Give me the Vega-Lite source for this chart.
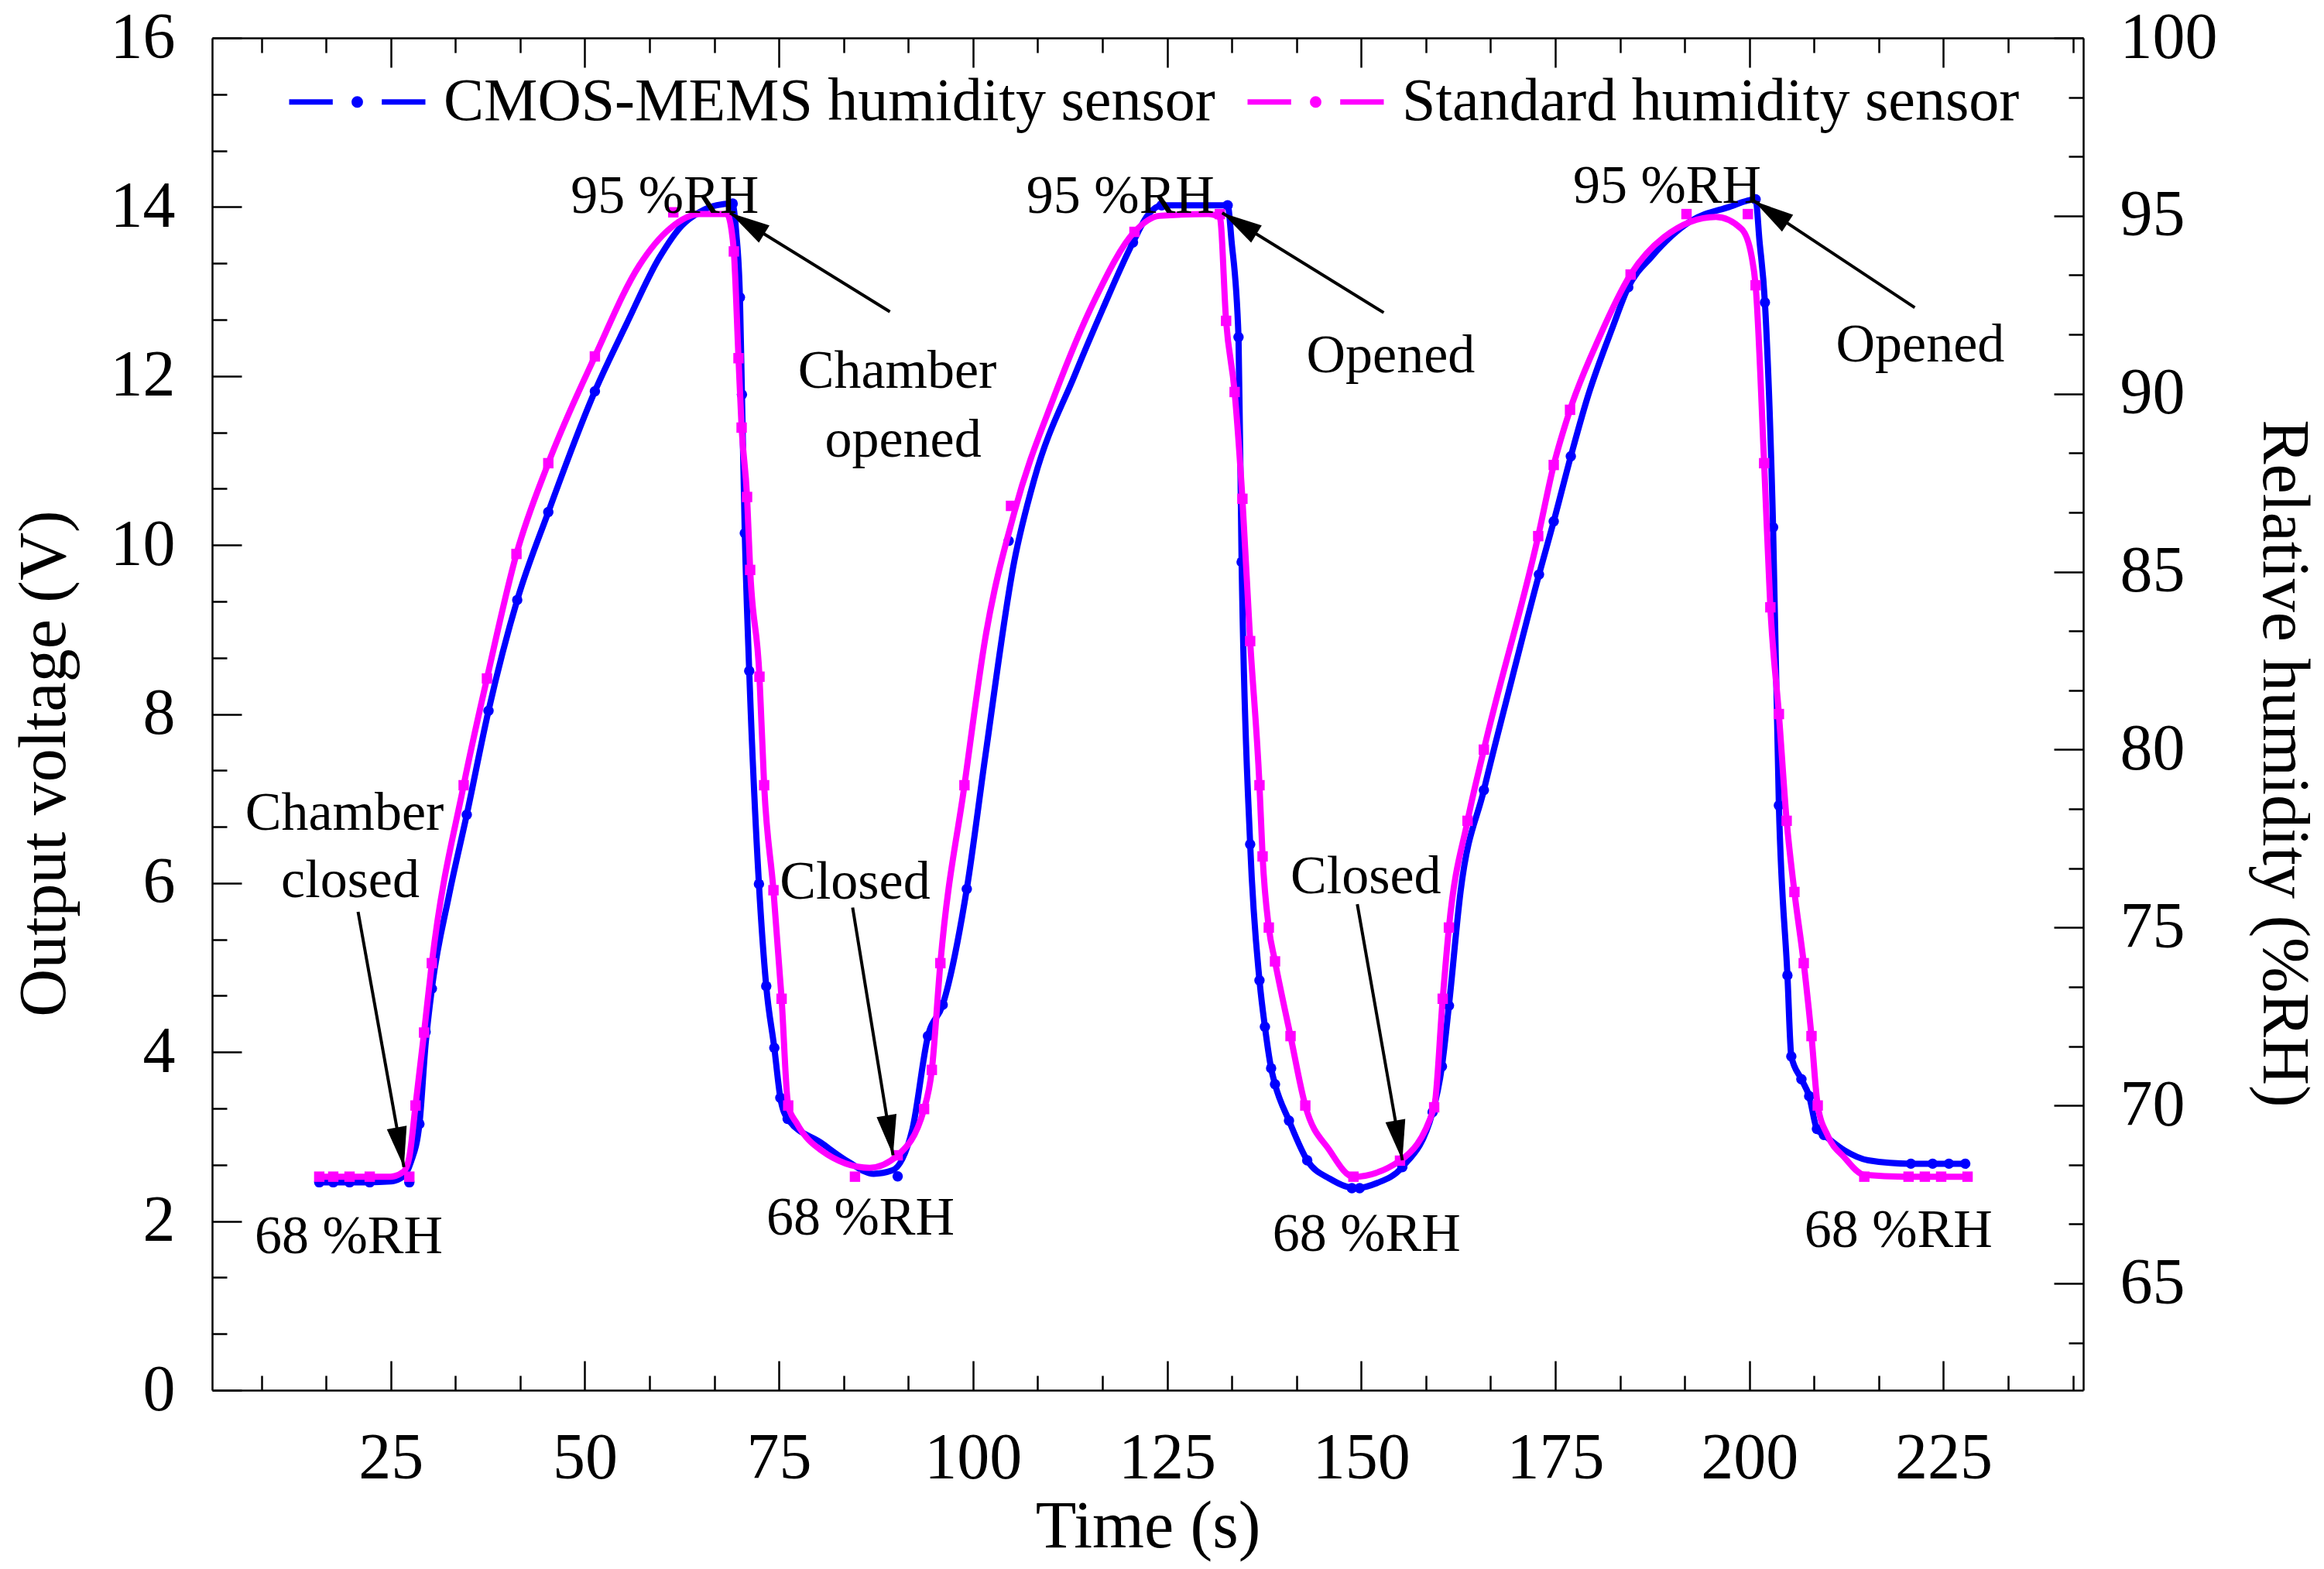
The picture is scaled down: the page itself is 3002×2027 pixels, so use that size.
{
  "$schema": "https://vega.github.io/schema/vega-lite/v6.json",
  "width": 2417,
  "height": 1747,
  "autosize": {"type": "none"},
  "padding": {"left": 274, "top": 49, "right": 311, "bottom": 231},
  "background": "white",
  "config": {
    "view": {"stroke": null},
    "font": "Liberation Serif",
    "axis": {
      "grid": false, "domainColor": "black", "domainWidth": 2.5, "tickColor": "black", "tickWidth": 2.5,
      "labelColor": "black", "labelFont": "Liberation Serif", "labelFontSize": 84,
      "titleFont": "Liberation Serif", "titleFontSize": 86, "titleFontWeight": "normal", "titleColor": "black",
      "labelOverlap": false, "labelBound": false, "labelFlush": false
    }
  },
  "datasets": {
    "cmos_fit": [
      {"t":15.8,"v":2.46},{"t":22,"v":2.46},{"t":25,"v":2.47},{"t":26.5,"v":2.52},{"t":27.6,"v":2.7},{"t":28.7,"v":3.15},{"t":29.5,"v":4.1},{"t":30.3,"v":4.75},{"t":32.5,"v":5.85},{"t":34.8,"v":6.81},{"t":37.6,"v":8.04},{"t":41.3,"v":9.35},{"t":45.3,"v":10.39},{"t":51.3,"v":11.82},{"t":55.4,"v":12.62},{"t":59.6,"v":13.4},{"t":62.5,"v":13.78},{"t":64.8,"v":13.94},{"t":67,"v":14.02},{"t":69.0,"v":14.04},{"t":69.5,"v":13.7},{"t":69.98,"v":12.93},{"t":70.24,"v":11.78},{"t":70.61,"v":10.14},{"t":71.18,"v":8.51},{"t":72.43,"v":5.99},{"t":73.37,"v":4.78},{"t":74.41,"v":4.05},{"t":75.19,"v":3.46},{"t":76.13,"v":3.21},{"t":80.4,"v":2.93},{"t":84,"v":2.7},{"t":87.2,"v":2.56},{"t":89.6,"v":2.6},{"t":92.2,"v":3.09},{"t":94.2,"v":4.19},{"t":96.1,"v":4.56},{"t":99.2,"v":5.93},{"t":101.6,"v":7.51},{"t":105.3,"v":9.8},{"t":107.9,"v":10.78},{"t":113.1,"v":12.01},{"t":116.7,"v":12.79},{"t":120.6,"v":13.58},{"t":122.5,"v":13.9},{"t":124.3,"v":14.02},{"t":132.8,"v":14.02},{"t":133.3,"v":13.6},{"t":134.2,"v":12.46},{"t":134.6,"v":9.8},{"t":135.7,"v":6.46},{"t":136.9,"v":4.85},{"t":137.6,"v":4.3},{"t":138.4,"v":3.81},{"t":138.9,"v":3.62},{"t":140.7,"v":3.19},{"t":143.05,"v":2.72},{"t":146,"v":2.5},{"t":149.3,"v":2.39},{"t":152,"v":2.45},{"t":155.3,"v":2.64},{"t":159.2,"v":3.29},{"t":160.4,"v":3.83},{"t":161.3,"v":4.55},{"t":162.8,"v":5.9},{"t":165.8,"v":7.1},{"t":169.4,"v":8.41},{"t":172.9,"v":9.65},{"t":174.8,"v":10.28},{"t":177.0,"v":11.05},{"t":179.1,"v":11.73},{"t":182.4,"v":12.58},{"t":184.4,"v":13.05},{"t":187.4,"v":13.41},{"t":192.4,"v":13.83},{"t":197.4,"v":14.0},{"t":200.8,"v":14.09},{"t":201.3,"v":13.6},{"t":202.0,"v":12.87},{"t":203.05,"v":10.21},{"t":203.8,"v":6.92},{"t":204.9,"v":4.91},{"t":205.4,"v":3.95},{"t":206.7,"v":3.68},{"t":207.7,"v":3.48},{"t":208.7,"v":3.09},{"t":209.6,"v":3.02},{"t":212.2,"v":2.84},{"t":215.3,"v":2.72},{"t":220.8,"v":2.68},{"t":227.8,"v":2.68}
    ],
    "cmos_pts": [
      {"t":15.8,"v":2.46},{"t":17.6,"v":2.46},{"t":19.7,"v":2.46},{"t":22.3,"v":2.46},{"t":27.4,"v":2.46},{"t":28.7,"v":3.15},{"t":29.5,"v":4.24},{"t":30.3,"v":4.75},{"t":34.8,"v":6.81},{"t":37.6,"v":8.04},{"t":41.3,"v":9.35},{"t":45.3,"v":10.39},{"t":51.3,"v":11.82},{"t":69.05,"v":14.04},{"t":69.98,"v":12.93},{"t":70.24,"v":11.78},{"t":70.61,"v":10.14},{"t":71.18,"v":8.51},{"t":72.43,"v":5.99},{"t":73.37,"v":4.78},{"t":74.41,"v":4.05},{"t":75.19,"v":3.46},{"t":76.13,"v":3.21},{"t":90.3,"v":2.53},{"t":94.2,"v":4.19},{"t":96.1,"v":4.56},{"t":99.2,"v":5.93},{"t":104.6,"v":10.05},{"t":120.6,"v":13.58},{"t":124.3,"v":14.02},{"t":132.8,"v":14.02},{"t":134.2,"v":12.46},{"t":134.6,"v":9.8},{"t":135.7,"v":6.46},{"t":136.9,"v":4.85},{"t":137.6,"v":4.3},{"t":138.4,"v":3.81},{"t":138.9,"v":3.62},{"t":140.7,"v":3.19},{"t":143.05,"v":2.72},{"t":148.8,"v":2.39},{"t":149.8,"v":2.39},{"t":155.3,"v":2.64},{"t":159.2,"v":3.29},{"t":160.4,"v":3.83},{"t":161.3,"v":4.55},{"t":165.8,"v":7.1},{"t":172.9,"v":9.65},{"t":174.8,"v":10.28},{"t":177.0,"v":11.05},{"t":184.4,"v":13.05},{"t":200.8,"v":14.09},{"t":202.0,"v":12.87},{"t":203.05,"v":10.21},{"t":203.8,"v":6.92},{"t":204.9,"v":4.91},{"t":205.4,"v":3.95},{"t":206.7,"v":3.68},{"t":207.7,"v":3.48},{"t":208.7,"v":3.09},{"t":209.6,"v":3.02},{"t":220.8,"v":2.68},{"t":223.6,"v":2.68},{"t":225.7,"v":2.68},{"t":227.8,"v":2.68}
    ],
    "std_fit": [
      {"t":15.8,"rh":68.0},{"t":25.0,"rh":68.0},{"t":26.7,"rh":68.15},{"t":27.4,"rh":68.55},{"t":28.2,"rh":70.0},{"t":29.3,"rh":72.05},{"t":30.3,"rh":74.0},{"t":34.4,"rh":79.0},{"t":37.4,"rh":82.0},{"t":41.2,"rh":85.5},{"t":45.3,"rh":88.05},{"t":51.3,"rh":91.05},{"t":57.0,"rh":93.6},{"t":61.0,"rh":94.65},{"t":64.8,"rh":95.05},{"t":68.3,"rh":95.05},{"t":68.9,"rh":94.6},{"t":69.2,"rh":94.0},{"t":69.8,"rh":91.0},{"t":70.2,"rh":89.05},{"t":70.9,"rh":87.1},{"t":71.3,"rh":85.05},{"t":72.5,"rh":82.05},{"t":73.1,"rh":79.0},{"t":74.3,"rh":76.05},{"t":75.35,"rh":73.0},{"t":76.2,"rh":70.0},{"t":77.3,"rh":69.5},{"t":80.4,"rh":68.75},{"t":86.7,"rh":68.25},{"t":90.3,"rh":68.6},{"t":93.7,"rh":69.9},{"t":94.7,"rh":71.0},{"t":95.8,"rh":74.0},{"t":98.9,"rh":79.0},{"t":101.6,"rh":83.15},{"t":105.3,"rh":86.65},{"t":110.5,"rh":89.95},{"t":115.7,"rh":92.65},{"t":120.8,"rh":94.55},{"t":124.0,"rh":95.0},{"t":130.3,"rh":95.05},{"t":131.8,"rh":94.95},{"t":132.6,"rh":92.05},{"t":133.7,"rh":90.05},{"t":134.7,"rh":87.05},{"t":135.7,"rh":83.05},{"t":136.9,"rh":79.0},{"t":137.3,"rh":77.0},{"t":138.1,"rh":75.0},{"t":138.9,"rh":74.05},{"t":140.9,"rh":71.95},{"t":142.8,"rh":70.0},{"t":145.9,"rh":68.75},{"t":149.0,"rh":68.0},{"t":155.0,"rh":68.45},{"t":159.4,"rh":69.95},{"t":160.5,"rh":73.0},{"t":161.3,"rh":75.0},{"t":163.7,"rh":78.0},{"t":165.8,"rh":80.0},{"t":172.8,"rh":86.0},{"t":174.8,"rh":88.0},{"t":176.9,"rh":89.55},{"t":180.7,"rh":91.6},{"t":184.7,"rh":93.35},{"t":189.0,"rh":94.4},{"t":195.7,"rh":94.97},{"t":199.0,"rh":94.63},{"t":200.3,"rh":93.85},{"t":200.8,"rh":93.05},{"t":201.9,"rh":88.05},{"t":202.7,"rh":84.0},{"t":203.8,"rh":81.0},{"t":204.8,"rh":78.0},{"t":205.8,"rh":76.0},{"t":207.0,"rh":74.0},{"t":208.0,"rh":71.95},{"t":208.8,"rh":70.0},{"t":210.1,"rh":69.15},{"t":212.2,"rh":68.55},{"t":214.8,"rh":68.05},{"t":220.0,"rh":68.0},{"t":228.1,"rh":68.0}
    ],
    "std_pts": [
      {"t":15.8,"rh":68.0},{"t":17.6,"rh":68.0},{"t":19.7,"rh":68.0},{"t":22.3,"rh":68.0},{"t":27.4,"rh":68.0},{"t":28.2,"rh":70.0},{"t":29.3,"rh":72.05},{"t":30.3,"rh":74.0},{"t":34.4,"rh":79.0},{"t":37.4,"rh":82.0},{"t":41.2,"rh":85.5},{"t":45.3,"rh":88.05},{"t":51.3,"rh":91.05},{"t":61.4,"rh":95.1},{"t":69.2,"rh":94.0},{"t":69.8,"rh":91.0},{"t":70.2,"rh":89.05},{"t":70.9,"rh":87.1},{"t":71.3,"rh":85.05},{"t":72.5,"rh":82.05},{"t":73.1,"rh":79.0},{"t":74.3,"rh":76.05},{"t":75.35,"rh":73.0},{"t":76.2,"rh":70.0},{"t":84.8,"rh":68.0},{"t":90.3,"rh":68.6},{"t":93.7,"rh":69.9},{"t":94.7,"rh":71.0},{"t":95.8,"rh":74.0},{"t":98.9,"rh":79.0},{"t":104.9,"rh":86.85},{"t":120.8,"rh":94.55},{"t":131.8,"rh":95.05},{"t":132.6,"rh":92.05},{"t":133.7,"rh":90.05},{"t":134.7,"rh":87.05},{"t":135.7,"rh":83.05},{"t":136.9,"rh":79.0},{"t":137.3,"rh":77.0},{"t":138.1,"rh":75.0},{"t":138.9,"rh":74.05},{"t":140.9,"rh":71.95},{"t":142.8,"rh":70.0},{"t":149.0,"rh":68.0},{"t":155.0,"rh":68.45},{"t":159.4,"rh":69.95},{"t":160.5,"rh":73.0},{"t":161.3,"rh":75.0},{"t":163.7,"rh":78.0},{"t":165.8,"rh":80.0},{"t":172.8,"rh":86.0},{"t":174.8,"rh":88.0},{"t":176.9,"rh":89.55},{"t":184.7,"rh":93.35},{"t":191.9,"rh":95.05},{"t":199.8,"rh":95.05},{"t":200.8,"rh":93.05},{"t":201.9,"rh":88.05},{"t":202.7,"rh":84.0},{"t":203.8,"rh":81.0},{"t":204.8,"rh":78.0},{"t":205.8,"rh":76.0},{"t":207.0,"rh":74.0},{"t":208.0,"rh":71.95},{"t":208.8,"rh":70.0},{"t":214.8,"rh":68.0},{"t":220.5,"rh":68.0},{"t":222.6,"rh":68.0},{"t":224.7,"rh":68.0},{"t":228.1,"rh":68.0}
    ],
    "arrows": [
      {"t":20.8,"v":5.66,"t2":26.7,"v2":2.64},
      {"t":89.3,"v":12.76,"t2":68.7,"v2":13.93},
      {"t":84.5,"v":5.71,"t2":89.7,"v2":2.78},
      {"t":152.9,"v":12.75,"t2":132.1,"v2":13.93},
      {"t":149.5,"v":5.75,"t2":155.3,"v2":2.72},
      {"t":221.3,"v":12.81,"t2":200.6,"v2":14.07}
    ],
    "notes": [
      {"t":60.3,"v":14.12,"label":"95 %RH"},
      {"t":119.0,"v":14.12,"label":"95 %RH"},
      {"t":189.4,"v":14.24,"label":"95 %RH"},
      {"t":19.6,"v":1.81,"label":"68 %RH"},
      {"t":85.5,"v":2.03,"label":"68 %RH"},
      {"t":150.7,"v":1.84,"label":"68 %RH"},
      {"t":219.2,"v":1.89,"label":"68 %RH"},
      {"t":19.06,"v":6.82,"label":"Chamber"},
      {"t":19.8,"v":6.03,"label":"closed"},
      {"t":90.25,"v":12.05,"label":"Chamber"},
      {"t":91.0,"v":11.24,"label":"opened"},
      {"t":84.8,"v":6.01,"label":"Closed"},
      {"t":153.8,"v":12.24,"label":"Opened"},
      {"t":150.6,"v":6.07,"label":"Closed"},
      {"t":222.0,"v":12.36,"label":"Opened"}
    ]
  },
  "resolve": {"scale": {"x": "independent", "y": "independent"}, "axis": {"x": "independent", "y": "independent"}},
  "layer": [
    {
      "layer": [
        {
          "data": {"name": "cmos_fit"},
          "mark": {"type": "line", "interpolate": "monotone", "strokeWidth": 8},
          "encoding": {
            "x": {"field": "t", "type": "quantitative", "scale": {"domain": [2, 243], "nice": false, "zero": false},
              "axis": {"orient": "bottom", "title": "Time (s)", "labelOverlap": false, "values": [8.3333,16.6667,25,33.3333,41.6667,50,58.3333,66.6667,75,83.3333,91.6667,100,108.3333,116.6667,125,133.3333,141.6667,150,158.3333,166.6667,175,183.3333,191.6667,200,208.3333,216.6667,225,233.3333,241.6667],
                "tickSize": {"condition": {"test": "datum.value % 25 === 0", "value": -38}, "value": -19},
                "labelExpr": "datum.value % 25 === 0 ? format(datum.value, 'd') : ''", "labelPadding": 85, "titleY": 176, "titleBaseline": "middle"}},
            "y": {"field": "v", "type": "quantitative", "scale": {"domain": [0, 16], "nice": false, "zero": false},
              "axis": {"orient": "left", "title": "Output voltage (V)", "labelOverlap": false, "values": [0,0.6667,1.3333,2,2.6667,3.3333,4,4.6667,5.3333,6,6.6667,7.3333,8,8.6667,9.3333,10,10.6667,11.3333,12,12.6667,13.3333,14,14.6667,15.3333,16],
                "tickSize": {"condition": {"test": "datum.value % 2 === 0", "value": -38}, "value": -19},
                "labelExpr": "datum.value % 2 === 0 ? format(datum.value, 'd') : ''", "labelPadding": 86,
                "titleX": -217, "titleY": 937, "titleAngle": -90, "titleAlign": "center", "titleBaseline": "middle"}},
            "color": {"datum": "CMOS-MEMS humidity sensor", "type": "nominal",
              "scale": {"domain": ["CMOS-MEMS humidity sensor", "Standard humidity sensor"], "range": ["#0000FF", "#FF00FF"]},
              "legend": {"orient": "none", "legendX": 96, "legendY": -9, "direction": "horizontal", "columns": 2, "title": null,
                "symbolType": "M-1,0H-0.36M0.36,0H1M-0.045,0A0.045,0.045,0,1,1,0.045,0A0.045,0.045,0,1,1,-0.045,0Z",
                "symbolSize": 30976, "symbolStrokeWidth": 7, "labelFont": "Liberation Serif", "labelFontSize": 78, "labelColor": "black",
                "labelOffset": 20, "columnPadding": 27, "padding": 0, "labelLimit": 0,
                "encode": {"symbols": {"update": {"fill": {"scale": "color", "field": "value"}, "stroke": {"scale": "color", "field": "value"}, "opacity": {"value": 1}}}}}}
          }
        },
        {
          "data": {"name": "cmos_pts"},
          "mark": {"type": "point", "shape": "circle", "filled": true, "size": 180, "opacity": 1},
          "encoding": {
            "x": {"field": "t", "type": "quantitative", "scale": {"domain": [2, 243], "nice": false, "zero": false},
              "axis": {"orient": "bottom", "title": "Time (s)", "labelOverlap": false, "values": [8.3333,16.6667,25,33.3333,41.6667,50,58.3333,66.6667,75,83.3333,91.6667,100,108.3333,116.6667,125,133.3333,141.6667,150,158.3333,166.6667,175,183.3333,191.6667,200,208.3333,216.6667,225,233.3333,241.6667],
                "tickSize": {"condition": {"test": "datum.value % 25 === 0", "value": -38}, "value": -19},
                "labelExpr": "datum.value % 25 === 0 ? format(datum.value, 'd') : ''", "labelPadding": 85, "titleY": 176, "titleBaseline": "middle"}},
            "y": {"field": "v", "type": "quantitative", "scale": {"domain": [0, 16], "nice": false, "zero": false},
              "axis": {"orient": "left", "title": "Output voltage (V)", "labelOverlap": false, "values": [0,0.6667,1.3333,2,2.6667,3.3333,4,4.6667,5.3333,6,6.6667,7.3333,8,8.6667,9.3333,10,10.6667,11.3333,12,12.6667,13.3333,14,14.6667,15.3333,16],
                "tickSize": {"condition": {"test": "datum.value % 2 === 0", "value": -38}, "value": -19},
                "labelExpr": "datum.value % 2 === 0 ? format(datum.value, 'd') : ''", "labelPadding": 86,
                "titleX": -217, "titleY": 937, "titleAngle": -90, "titleAlign": "center", "titleBaseline": "middle"}},
            "color": {"datum": "CMOS-MEMS humidity sensor", "type": "nominal"}
          }
        }
      ]
    },
    {
      "layer": [
        {
          "data": {"name": "std_fit"},
          "mark": {"type": "line", "interpolate": "monotone", "strokeWidth": 8},
          "encoding": {
            "x": {"field": "t", "type": "quantitative", "scale": {"domain": [2, 243], "nice": false, "zero": false},
              "axis": {"orient": "top", "title": null, "labels": false, "values": [8.3333,16.6667,25,33.3333,41.6667,50,58.3333,66.6667,75,83.3333,91.6667,100,108.3333,116.6667,125,133.3333,141.6667,150,158.3333,166.6667,175,183.3333,191.6667,200,208.3333,216.6667,225,233.3333,241.6667],
                "tickSize": {"condition": {"test": "datum.value % 25 === 0", "value": -38}, "value": -19}}},
            "y": {"field": "rh", "type": "quantitative", "scale": {"domain": [62, 100], "nice": false, "zero": false},
              "axis": {"orient": "right", "title": "Relative humidity (%RH)", "labelOverlap": false, "values": [63.3333,65,66.6667,68.3333,70,71.6667,73.3333,75,76.6667,78.3333,80,81.6667,83.3333,85,86.6667,88.3333,90,91.6667,93.3333,95,96.6667,98.3333,100],
                "tickSize": {"condition": {"test": "datum.value % 5 === 0", "value": -38}, "value": -19},
                "labelExpr": "datum.value % 5 === 0 ? format(datum.value, 'd') : ''", "labelPadding": 85,
                "titleX": 258, "titleY": 937, "titleAngle": 90, "titleAlign": "center", "titleBaseline": "middle"}},
            "color": {"datum": "Standard humidity sensor", "type": "nominal"}
          }
        },
        {
          "data": {"name": "std_pts"},
          "mark": {"type": "point", "shape": "square", "filled": true, "size": 180, "opacity": 1},
          "encoding": {
            "x": {"field": "t", "type": "quantitative", "scale": {"domain": [2, 243], "nice": false, "zero": false},
              "axis": {"orient": "top", "title": null, "labels": false, "values": [8.3333,16.6667,25,33.3333,41.6667,50,58.3333,66.6667,75,83.3333,91.6667,100,108.3333,116.6667,125,133.3333,141.6667,150,158.3333,166.6667,175,183.3333,191.6667,200,208.3333,216.6667,225,233.3333,241.6667],
                "tickSize": {"condition": {"test": "datum.value % 25 === 0", "value": -38}, "value": -19}}},
            "y": {"field": "rh", "type": "quantitative", "scale": {"domain": [62, 100], "nice": false, "zero": false},
              "axis": {"orient": "right", "title": "Relative humidity (%RH)", "labelOverlap": false, "values": [63.3333,65,66.6667,68.3333,70,71.6667,73.3333,75,76.6667,78.3333,80,81.6667,83.3333,85,86.6667,88.3333,90,91.6667,93.3333,95,96.6667,98.3333,100],
                "tickSize": {"condition": {"test": "datum.value % 5 === 0", "value": -38}, "value": -19},
                "labelExpr": "datum.value % 5 === 0 ? format(datum.value, 'd') : ''", "labelPadding": 85,
                "titleX": 258, "titleY": 937, "titleAngle": 90, "titleAlign": "center", "titleBaseline": "middle"}},
            "color": {"datum": "Standard humidity sensor", "type": "nominal"}
          }
        }
      ]
    },
    {
      "layer": [
        {
          "data": {"name": "arrows"},
          "mark": {"type": "rule", "color": "black", "strokeWidth": 4},
          "encoding": {
            "x": {"field": "t", "type": "quantitative", "scale": {"domain": [2, 243], "nice": false, "zero": false}, "axis": null},
            "y": {"field": "v", "type": "quantitative", "scale": {"domain": [0, 16], "nice": false, "zero": false}, "axis": null},
            "x2": {"field": "t2"},
            "y2": {"field": "v2"}
          }
        },
        {
          "data": {"name": "arrows"},
          "transform": [{"calculate": "atan2((datum.t2 - datum.t) * 10.029, (datum.v2 - datum.v) * 109.19) * 180 / PI", "as": "ang"}],
          "mark": {"type": "point", "shape": "M0,0L-0.5,2L0.5,2Z", "filled": true, "color": "black", "size": 2700, "opacity": 1, "strokeWidth": 0},
          "encoding": {
            "x": {"field": "t2", "type": "quantitative", "scale": {"domain": [2, 243], "nice": false, "zero": false}, "axis": null},
            "y": {"field": "v2", "type": "quantitative", "scale": {"domain": [0, 16], "nice": false, "zero": false}, "axis": null},
            "angle": {"field": "ang", "type": "quantitative", "scale": null}
          }
        },
        {
          "data": {"name": "notes"},
          "mark": {"type": "text", "font": "Liberation Serif", "fontSize": 70, "color": "black", "align": "center", "baseline": "middle"},
          "encoding": {
            "x": {"field": "t", "type": "quantitative", "scale": {"domain": [2, 243], "nice": false, "zero": false}, "axis": null},
            "y": {"field": "v", "type": "quantitative", "scale": {"domain": [0, 16], "nice": false, "zero": false}, "axis": null},
            "text": {"field": "label"}
          }
        }
      ]
    }
  ]
}
